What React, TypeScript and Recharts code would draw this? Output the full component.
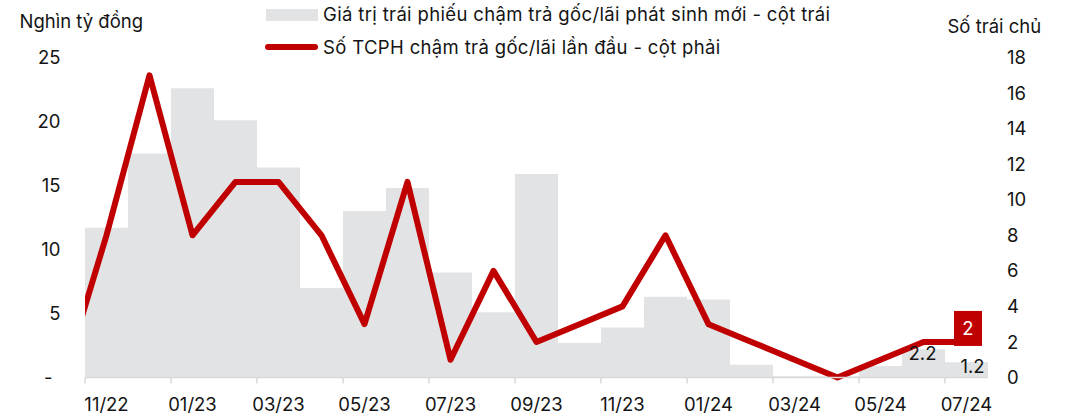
import React from "react";
import {
  ComposedChart,
  Bar,
  Line,
  XAxis,
  YAxis,
  LabelList,
} from "recharts";

const months = [
  "10/22", "11/22", "12/22", "01/23", "02/23", "03/23", "04/23", "05/23",
  "06/23", "07/23", "08/23", "09/23", "10/23", "11/23", "12/23", "01/24",
  "02/24", "03/24", "04/24", "05/24", "06/24", "07/24",
];

// Giá trị trái phiếu chậm trả gốc/lãi phát sinh mới (nghìn tỷ đồng)
const bondValues = [
  13.3, 11.7, 17.5, 22.6, 20.1, 16.4, 7.0, 13.0, 14.8, 8.2, 5.1, 15.9, 2.7,
  3.9, 6.3, 6.1, 1.0, 0.1, 0.1, 0.9, 2.2, 1.2,
];

// Số TCPH chậm trả gốc/lãi lần đầu
const issuerCounts = [
  0, 8, 17, 8, 11, 11, 8, 3, 11, 1, 6, 2, 3, 4, 8, 3, 2, 1, 0, 1, 2, 2,
];

const leftTicks = [0, 5, 10, 15, 20, 25];
const rightTicks = [0, 2, 4, 6, 8, 10, 12, 14, 16, 18];
const xTicks = [0.5, 2.5, 4.5, 6.5, 8.5, 10.5, 12.5, 14.5, 16.5, 18.5, 20.5];

const barLabelMonths = ["06/24", "07/24"];
const lineLabelMonth = "07/24";

const data = months.map((m, i) => ({
  i,
  month: m,
  bond: bondValues[i],
  issuers: issuerCounts[i],
}));

const W = 1066;
const H = 417;
const RED = "#c00000";
const GREY = "#e2e3e5";
const AXIS = "#d9d9d9";
const TEXT = "#141414";
const FONT = "Inter, 'Liberation Sans', Arial, sans-serif";
const FS = 18.5;

const margin = { top: 57.5, right: 18, bottom: 9.5, left: 25 };
const yAxisW = 60;
const plotW = W - margin.left - margin.right - 2 * yAxisW;
const halfBand = plotW / 21 / 2;

const XTick = (props: any) => {
  const { x, y, payload } = props;
  const idx = Math.round(payload.value + 0.5);
  return (
    <g>
      <line x1={x} y1={y} x2={x} y2={y + 6} stroke={AXIS} strokeWidth={1.5} />
      <text x={x + halfBand} y={y + 33} textAnchor="middle" fill={TEXT} fontSize={FS}>
        {months[idx]}
      </text>
    </g>
  );
};

const LeftTick = (props: any) => {
  const { x, y, payload } = props;
  const v = payload.value;
  return (
    <text x={x} y={y} dx={v === 0 ? -8 : 0} dy="0.355em" textAnchor="end" fill={TEXT} fontSize={FS}>
      {v === 0 ? "-" : v}
    </text>
  );
};

const RightTick = (props: any) => {
  const { x, y, payload } = props;
  return (
    <text x={x} y={y} dy="0.355em" textAnchor="start" fill={TEXT} fontSize={FS}>
      {payload.value}
    </text>
  );
};

const BarValueLabel = (props: any) => {
  const { x, y, width, value, index } = props;
  if (!barLabelMonths.includes(months[index])) return null;
  const shift = index === months.length - 1 ? 6 : -1;
  return (
    <text
      x={x + width / 2 + shift}
      y={y + 4}
      dy="0.355em"
      textAnchor="middle"
      fill={TEXT}
      fontSize={FS}
    >
      {Number(value).toFixed(1)}
    </text>
  );
};

const LineValueLabel = (props: any) => {
  const { x, y, value, index } = props;
  if (months[index] !== lineLabelMonth) return null;
  return (
    <g>
      <rect x={x - 12.5} y={y - 31} width={28} height={35} fill={RED} />
      <text
        x={x + 1.5}
        y={y - 13.5}
        dy="0.355em"
        textAnchor="middle"
        fill="#ffffff"
        fontSize={FS}
      >
        {value}
      </text>
    </g>
  );
};

const abs = (left: number, top: number, spacing = 0): React.CSSProperties => ({
  position: "absolute",
  left,
  top,
  fontSize: FS,
  lineHeight: "20px",
  letterSpacing: spacing,
  color: TEXT,
  whiteSpace: "nowrap",
});

export default function App() {
  return (
    <div
      style={{
        position: "absolute",
        left: 0,
        top: 0,
        width: W,
        height: H,
        background: "#fff",
        fontFamily: FONT,
      }}
    >
      <ComposedChart width={W} height={H} data={data} margin={margin} barGap={0} barCategoryGap={0}>
        <XAxis
          type="number"
          dataKey="i"
          xAxisId="x"
          domain={[0.5, 21.5]}
          allowDataOverflow
          ticks={xTicks}
          interval={0}
          tick={<XTick />}
          tickLine={false}
          tickSize={0}
          tickMargin={0}
          height={30}
          axisLine={{ stroke: AXIS, strokeWidth: 1.5 }}
        />
        <YAxis
          yAxisId="left"
          orientation="left"
          domain={[0, 25]}
          ticks={leftTicks}
          width={yAxisW}
          axisLine={false}
          tickLine={false}
          tickSize={0}
          tickMargin={24.5}
          tick={<LeftTick />}
        />
        <YAxis
          yAxisId="right"
          orientation="right"
          domain={[0, 18]}
          ticks={rightTicks}
          width={yAxisW}
          axisLine={false}
          tickLine={false}
          tickSize={0}
          tickMargin={19}
          tick={<RightTick />}
        />
        <Bar
          dataKey="bond"
          xAxisId="x"
          yAxisId="left"
          fill={GREY}
          isAnimationActive={false}
        >
          <LabelList dataKey="bond" content={<BarValueLabel />} />
        </Bar>
        <Line
          type="linear"
          dataKey="issuers"
          xAxisId="x"
          yAxisId="right"
          stroke={RED}
          strokeWidth={6}
          strokeLinejoin="round"
          dot={false}
          activeDot={false}
          isAnimationActive={false}
        >
          <LabelList dataKey="issuers" content={<LineValueLabel />} />
        </Line>
      </ComposedChart>

      <div style={abs(19.5, 10.6)}>Nghìn tỷ đồng</div>
      <div style={abs(947.5, 15.6)}>Số trái chủ</div>

      <div
        style={{
          position: "absolute",
          left: 266,
          top: 8.5,
          width: 52,
          height: 12,
          background: GREY,
        }}
      />
      <div style={abs(323, 4.3, 0.35)}>
        Giá trị trái phiếu chậm trả gốc/lãi phát sinh mới - cột trái
      </div>
      <div
        style={{
          position: "absolute",
          left: 265,
          top: 44,
          width: 53,
          height: 6,
          borderRadius: 3,
          background: RED,
        }}
      />
      <div style={abs(323, 37, 0.35)}>Số TCPH chậm trả gốc/lãi lần đầu - cột phải</div>
    </div>
  );
}
